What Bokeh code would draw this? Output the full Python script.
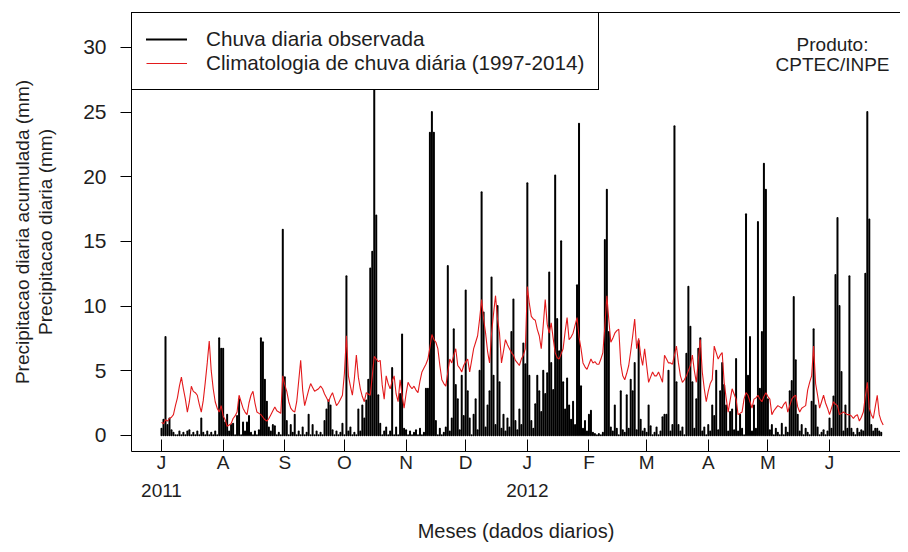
import numpy as np
from bokeh.plotting import figure
from bokeh.models import (ColumnDataSource, Range1d, FixedTicker, LinearAxis,
                          Legend, LegendItem, Label)
from bokeh.embed import file_html
from bokeh.resources import INLINE

# ---------------- data (daily, 1 Jul 2011 -> end Jun 2012) ----------------
meses = ["J", "A", "S", "O", "N", "D", "J", "F", "M", "A", "M", "J"]
dias_mes = [31, 31, 30, 31, 30, 31, 31, 29, 31, 30, 31, 30]
anos = {0: "2011", 6: "2012"}

# observed daily rain (mm)
chuva_jul = [0.5, 1.2, 7.6, 0.8, 1.3, 0.4, 0.2, 0.0, 0.0, 0.3, 0.0, 0.2, 0.0, 0.3, 0.4, 0.0,
             0.2, 0.0, 0.3, 0.0, 1.3, 0.2, 0.0, 0.3, 0.0, 0.2, 0.0, 0.3, 0.0, 7.5, 6.7]
chuva_ago = [6.7, 1.0, 1.6, 0.3, 0.8, 0.9, 0.0, 1.5, 2.8, 0.0, 1.0, 0.3, 1.0, 1.5, 0.2, 0.0,
             0.3, 0.0, 0.4, 7.5, 7.2, 4.3, 2.6, 0.6, 0.3, 0.8, 0.7, 0.0, 0.2, 0.0, 15.9]
chuva_set = [4.5, 1.1, 0.0, 0.8, 0.2, 1.6, 0.0, 0.3, 0.0, 0.6, 0.0, 0.2, 1.6, 0.0, 0.8, 0.0,
             0.3, 0.0, 0.2, 0.0, 1.1, 2.0, 2.7, 2.3, 0.4, 0.0, 0.3, 0.0, 0.2, 0.9]
chuva_out = [0.0, 12.3, 0.3, 0.6, 0.0, 0.2, 0.0, 2.0, 0.3, 2.3, 1.3, 2.7, 4.3, 12.9, 14.2, 31.4,
             17.0, 3.1, 0.9, 0.0, 0.3, 0.6, 0.0, 0.3, 5.2, 0.0, 0.6, 0.0, 3.2, 7.8, 0.5]
chuva_nov = [0.4, 0.0, 0.3, 0.0, 0.2, 0.4, 0.0, 0.5, 0.0, 0.2, 3.6, 3.6, 23.4, 25.0, 23.4, 1.1,
             0.0, 0.5, 0.0, 0.2, 0.6, 13.1, 0.3, 1.3, 8.2, 3.9, 2.8, 0.4, 4.6, 1.5]
chuva_dez = [11.2, 3.4, 1.3, 0.0, 1.6, 2.8, 0.4, 5.0, 18.8, 9.5, 0.6, 2.3, 3.4, 12.2, 4.6, 0.8,
             10.0, 4.1, 0.5, 1.6, 0.3, 1.3, 0.6, 8.0, 10.5, 1.1, 0.4, 2.0, 0.8, 7.1, 5.5]
chuva_jan = [19.5, 4.6, 1.1, 0.5, 2.4, 4.6, 3.4, 1.8, 5.0, 3.2, 4.8, 12.6, 5.6, 3.5, 20.1, 9.0,
             6.5, 15.0, 4.1, 2.0, 4.4, 2.3, 1.2, 2.6, 0.8, 11.6, 24.1, 3.8, 0.5, 1.1, 0.3]
chuva_fev = [1.6, 1.9, 0.2, 0.1, 0.0, 0.1, 0.0, 0.2, 15.1, 19.0, 8.0, 0.6, 0.3, 2.3, 0.5, 0.0,
             3.4, 0.4, 0.2, 3.1, 0.5, 4.3, 3.4, 5.6, 0.4, 7.3, 1.2, 0.3, 0.5]
chuva_mar = [0.2, 2.3, 0.7, 0.0, 0.2, 0.6, 0.0, 0.3, 1.4, 1.6, 1.6, 5.0, 0.3, 0.8, 23.9, 4.1,
             0.8, 0.3, 0.6, 0.0, 6.3, 11.5, 8.4, 4.1, 0.5, 2.8, 6.7, 7.5, 0.3, 0.6, 0.0]
chuva_abr = [0.8, 0.3, 2.3, 1.5, 5.0, 0.4, 3.4, 5.6, 3.9, 2.3, 0.3, 1.8, 2.0, 0.4, 5.9, 0.3,
             1.6, 0.5, 0.0, 17.1, 4.6, 7.6, 0.3, 2.3, 0.5, 16.5, 3.6, 8.0, 21.0, 19.0]
chuva_mai = [2.8, 0.4, 0.8, 0.0, 0.5, 0.2, 0.0, 0.9, 0.0, 0.6, 0.2, 3.4, 4.2, 10.7, 5.8, 1.6,
             0.3, 0.8, 0.0, 0.5, 0.2, 0.0, 2.6, 8.2, 2.3, 0.6, 0.0, 0.2, 0.4, 0.0, 0.3]
chuva_jun = [1.3, 0.5, 3.0, 12.4, 16.8, 10.0, 4.9, 0.3, 2.3, 0.5, 12.3, 0.5, 0.2, 0.0, 0.5, 0.2,
             0.4, 0.3, 12.5, 25.0, 16.7, 0.8, 0.3, 0.5, 0.5, 0.3, 0.2]

# daily climatology 1997-2014 (mm)
clima_jul = [1.0, 0.9, 1.2, 1.1, 1.3, 1.4, 1.6, 2.3, 2.9, 3.8, 4.5, 3.6, 2.8, 1.8, 2.6, 3.8,
             3.4, 3.3, 3.1, 2.4, 1.8, 2.7, 4.1, 5.6, 7.3, 5.0, 3.6, 2.6, 2.1, 1.8, 2.3]
clima_ago = [1.5, 1.2, 0.7, 0.8, 0.9, 1.3, 1.5, 1.8, 3.1, 2.6, 2.1, 1.8, 1.6, 2.5, 3.1, 3.4,
             2.5, 1.8, 1.7, 1.6, 1.4, 1.2, 1.1, 1.3, 1.6, 1.9, 2.2, 1.9, 1.8, 1.7, 4.6]
clima_set = [3.9, 3.4, 2.6, 2.1, 1.9, 1.8, 2.6, 4.2, 5.8, 3.5, 2.3, 2.9, 3.5, 4.0, 3.7, 3.4,
             3.5, 3.6, 3.8, 3.6, 3.2, 2.9, 2.6, 3.0, 3.3, 2.8, 2.3, 2.5, 2.8, 3.1]
clima_out = [4.8, 7.7, 4.6, 3.8, 3.1, 4.4, 6.2, 4.5, 3.6, 3.0, 2.6, 3.3, 3.2, 3.1, 4.6, 6.1,
             5.9, 5.7, 5.8, 3.9, 2.8, 4.6, 4.0, 3.6, 4.2, 4.6, 3.2, 2.6, 4.3, 3.1, 2.1]
clima_nov = [3.2, 4.1, 3.8, 3.6, 3.8, 3.5, 3.3, 4.2, 4.9, 5.2, 5.5, 5.9, 6.8, 7.8, 7.4, 7.2,
             6.7, 5.4, 4.3, 4.0, 3.8, 4.9, 5.9, 5.6, 6.2, 6.7, 5.4, 5.2, 4.9, 5.4]
clima_dez = [5.7, 5.9, 4.9, 5.8, 6.7, 7.2, 7.7, 9.0, 10.5, 9.0, 7.9, 6.5, 5.6, 7.9, 9.4, 10.8,
             9.0, 7.9, 5.6, 6.5, 7.4, 7.0, 6.7, 6.4, 6.2, 5.8, 5.6, 5.4, 5.9, 6.2, 6.7]
clima_jan = [11.5, 10.2, 9.2, 9.0, 8.9, 8.2, 7.7, 6.7, 8.5, 10.5, 8.6, 7.9, 8.7, 7.5, 6.4, 6.0,
             5.9, 6.3, 6.7, 8.0, 9.1, 7.4, 7.6, 7.9, 8.5, 9.1, 7.6, 6.7, 5.6, 5.3, 5.1]
clima_fev = [5.5, 5.9, 5.6, 5.7, 5.5, 5.5, 5.9, 6.4, 8.5, 10.8, 8.9, 7.2, 7.5, 7.9, 8.1, 8.2,
             5.5, 4.6, 4.3, 4.8, 5.4, 6.5, 7.7, 9.0, 6.7, 7.5, 6.2, 5.4, 6.7]
clima_mar = [5.4, 4.1, 4.5, 4.9, 4.6, 4.6, 4.9, 4.5, 4.1, 6.2, 5.9, 5.6, 5.6, 5.5, 6.2, 6.9,
             5.6, 4.6, 4.1, 4.3, 4.6, 5.0, 5.4, 6.2, 5.0, 4.1, 5.8, 7.4, 4.9, 3.6, 2.6]
clima_abr = [3.4, 4.0, 4.3, 6.9, 6.4, 5.9, 6.2, 6.4, 4.1, 2.9, 1.8, 2.7, 3.6, 3.2, 2.8, 1.6,
             1.7, 1.8, 2.8, 3.3, 3.1, 2.6, 2.1, 2.8, 2.9, 3.1, 2.8, 2.6, 3.0, 3.3]
clima_mai = [3.0, 2.8, 1.6, 1.9, 2.1, 2.3, 2.2, 2.1, 2.4, 2.6, 1.8, 2.3, 2.8, 3.0, 3.1, 2.2,
             1.8, 2.1, 2.2, 2.3, 3.5, 4.1, 4.6, 6.9, 4.0, 3.1, 2.1, 2.6, 3.1, 2.5, 2.1]
clima_jun = [1.6, 2.1, 2.6, 2.4, 2.3, 1.6, 1.7, 1.8, 1.7, 1.6, 1.6, 1.5, 1.3, 1.5, 1.6, 1.1,
             1.4, 1.8, 3.0, 4.1, 2.1, 1.6, 1.3, 2.2, 3.1, 1.6, 1.1, 0.8]

chuva = (chuva_jul + chuva_ago + chuva_set + chuva_out + chuva_nov + chuva_dez +
         chuva_jan + chuva_fev + chuva_mar + chuva_abr + chuva_mai + chuva_jun)
clima = (clima_jul + clima_ago + clima_set + clima_out + clima_nov + clima_dez +
         clima_jan + clima_fev + clima_mar + clima_abr + clima_mai + clima_jun)

src_chuva = ColumnDataSource(dict(dia=list(range(len(chuva))), v=chuva))
src_clima = ColumnDataSource(dict(dia=list(range(len(clima))), v=clima))

inicio_mes = [0] + list(np.cumsum(dias_mes)[:-1])
rotulos = {}
for i, (pos, m) in enumerate(zip(inicio_mes, meses)):
    rotulos[int(pos)] = m + ("\n" + anos[i] if i in anos else "")

FONT = "Liberation Sans"
TXT = "#1e1e1e"

p = figure(width=900, height=544, output_backend="svg", toolbar_location=None,
           x_range=Range1d(-15.1, 371.7), y_range=Range1d(-1.25, 32.7),
           min_border_left=131, min_border_right=0, min_border_top=12,
           min_border_bottom=91, x_axis_type=None, y_axis_type=None)
p.outline_line_color = None
p.background_fill_color = "white"
p.border_fill_color = "white"
p.xgrid.visible = False
p.ygrid.visible = False

bars = p.segment(x0="dia", y0=0, x1="dia", y1="v", source=src_chuva,
                 line_color="black", line_width=2, line_cap="round")
clim = p.line(x="dia", y="v", source=src_clima, line_color="#e31a1c", line_width=1.1)

# axes
xa = LinearAxis(ticker=FixedTicker(ticks=[int(t) for t in inicio_mes]),
                major_label_overrides=rotulos)
xa.axis_label = "Meses (dados diarios)"
xa.axis_label_text_font = FONT
xa.axis_label_text_font_size = "20px"
xa.axis_label_text_font_style = "normal"
xa.axis_label_text_color = TXT
xa.axis_label_standoff = 16
xa.major_label_text_font = FONT
xa.major_label_text_font_size = "19px"
xa.major_label_text_color = TXT
xa.major_label_text_line_height = 1.35
xa.major_label_standoff = 0
xa.major_tick_in = 12
xa.major_tick_out = 0
xa.minor_tick_in = 0
xa.minor_tick_out = 0
xa.axis_line_color = "black"
xa.major_tick_line_color = "black"
p.add_layout(xa, "below")

ya = LinearAxis(ticker=FixedTicker(ticks=[0, 5, 10, 15, 20, 25, 30]))
ya.axis_label = "Precipitacao diaria acumulada (mm)\nPrecipitacao diaria (mm)"
ya.axis_label_text_font = FONT
ya.axis_label_text_font_size = "19px"
ya.axis_label_text_font_style = "normal"
ya.axis_label_text_color = TXT
ya.axis_label_text_line_height = 1.1
ya.axis_label_standoff = 24
ya.major_label_text_font = FONT
ya.major_label_text_font_size = "21px"
ya.major_label_text_color = TXT
ya.major_label_standoff = 14
ya.major_tick_out = 11
ya.major_tick_in = 0
ya.minor_tick_in = 0
ya.minor_tick_out = 0
p.add_layout(ya, "left")

top = LinearAxis(ticker=FixedTicker(ticks=[]), major_tick_out=0, major_tick_in=0,
                 major_label_standoff=0, minor_tick_out=0, minor_tick_in=0)
p.add_layout(top, "above")

legend = Legend(items=[LegendItem(label="Chuva diaria observada", renderers=[bars]),
                       LegendItem(label="Climatologia de chuva diária (1997-2014)", renderers=[clim])],
                location="top_left", margin=0, padding=14, spacing=0,
                glyph_width=41, label_standoff=19,
                label_text_font=FONT, label_text_font_size="20.7px", label_text_color=TXT,
                border_line_color="black", border_line_width=1, border_line_alpha=1.0,
                background_fill_color="white", background_fill_alpha=1.0)
p.add_layout(legend)

for txt, yy in [("Produto:", 30.2), ("CPTEC/INPE", 28.65)]:
    p.add_layout(Label(x=337.5, y=yy, text=txt, text_align="center", text_baseline="middle",
                       text_font=FONT, text_font_size="19px", text_color=TXT))

open("out.html", "w").write(file_html(p, INLINE))
